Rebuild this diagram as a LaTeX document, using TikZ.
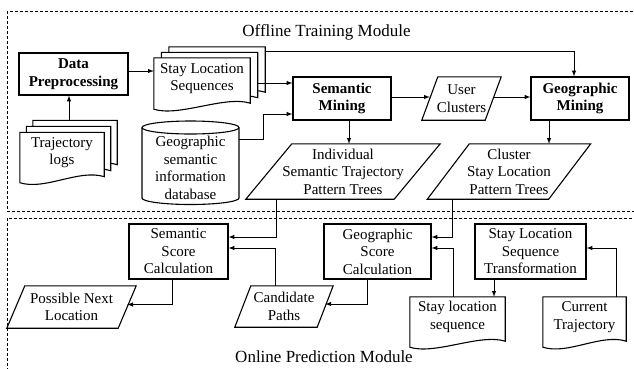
\documentclass[tikz,border=0pt]{standalone}
\usepackage{fontspec}
\setmainfont{Liberation Serif}
\usepackage{tikz}
\usetikzlibrary{calc}
\usetikzlibrary{arrows}
\usetikzlibrary{backgrounds}
\tikzset{>=latex}
\tikzstyle{proc} = [draw, rectangle, line width=1.1pt, align=center, inner sep=1pt, font=\fontsize{15}{17.5}\selectfont]
\tikzstyle{procb} = [proc, font=\fontsize{15}{17.5}\selectfont\bfseries]
\tikzstyle{io} = [draw=none, rectangle, align=center, inner sep=1pt, font=\fontsize{15}{17.5}\selectfont]
\tikzstyle{title} = [draw=none, font=\fontsize{17}{20}\selectfont]
\tikzstyle{frame} = [dash pattern=on 3pt off 2pt, line width=0.9pt]
\tikzstyle{link} = [->, line width=1pt]

% document outline round a node, shifted by (#2,#3)
\newcommand{\docshape}[3]{\draw[line width=1.1pt, fill=white] ($(#1.north west)+(#2,#3)$) -- ($(#1.north east)+(#2,#3)$) -- ($(#1.south east)+(#2,#3+4)$) .. controls +(-25,-8) and +(25,8) .. ($(#1.south west)+(#2,#3+10)$) -- cycle;}
% parallelogram round a node, slant #2
\newcommand{\slantbox}[2]{\draw[line width=1.1pt] ($(#1.south west)+(-#2/2,0)$) -- ($(#1.north west)+(#2/2,0)$) -- ($(#1.north east)+(#2/2,0)$) -- ($(#1.south east)+(-#2/2,0)$) -- cycle;}

\begin{document}
\begin{tikzpicture}[x=1pt, y=-1pt]
\useasboundingbox (0,0) rectangle (634,368);
\clip (0,0) rectangle (634,368);

% module frames
\draw[frame] (7,11) rectangle (660,211);
\draw[frame] (7,218) rectangle (660,400);
\node [title] (offt) at (326.5, 32) {Offline Training Module};
\node [title] (onlt) at (324, 357) {Online Prediction Module};

% offline part
\node [procb, minimum width=109, minimum height=42] (prep) at (73.5, 74) {Data\\Preprocessing};
\node [io, minimum width=96, minimum height=41] (slseq) at (202, 78.5) {Stay Location\\Sequences};
\node [io, minimum width=84, minimum height=40] (tlogs) at (62, 152.5) {Trajectory\\logs};
\node [io] (geodb) at (190.5, 168) {Geographic\\semantic\\information\\database};
\node [procb, minimum width=98, minimum height=43] (semmin) at (342, 98.5) {Semantic\\Mining};
\node [io, minimum width=63, minimum height=43] (usercl) at (461.5, 98.5) {User\\Clusters};
\node [procb, minimum width=98, minimum height=43] (geomin) at (580, 98.5) {Geographic\\Mining};
\node [io, minimum width=148, minimum height=55] (indiv) at (343, 171.5) {Individual\\Semantic Trajectory\\Pattern Trees};
\node [io, minimum width=121, minimum height=55] (clust) at (509, 171.5) {Cluster\\Stay Location\\Pattern Trees};

% online part
\node [proc, minimum width=99, minimum height=55] (semsc) at (178.5, 251.5) {Semantic\\Score\\Calculation};
\node [proc, minimum width=107, minimum height=55] (geosc) at (377.5, 251.5) {Geographic\\Score\\Calculation};
\node [proc, minimum width=111, minimum height=55] (slst) at (530.5, 251.5) {Stay Location\\Sequence\\Transformation};
\node [io, minimum width=111, minimum height=42] (posnx) at (71.5, 307) {Possible Next\\Location};
\node [io, minimum width=82, minimum height=41] (cand) at (284, 306.5) {Candidate\\Paths};
\node [io, minimum width=95, minimum height=40] (sls) at (457.5, 317) {Stay location\\sequence};
\node [io, minimum width=83, minimum height=40] (curtr) at (584.5, 317) {Current\\Trajectory};

\begin{pgfonlayer}{background}
\docshape{slseq}{15}{-11}
\docshape{slseq}{7.5}{-5.5}
\docshape{slseq}{0}{0}
\docshape{tlogs}{13}{-12}
\docshape{tlogs}{6.5}{-6}
\docshape{tlogs}{0}{0}
\docshape{sls}{0}{0}
\docshape{curtr}{0}{0}
\end{pgfonlayer}

\slantbox{usercl}{16}
\slantbox{indiv}{46}
\slantbox{clust}{42}
\slantbox{posnx}{18}
\slantbox{cand}{16}

% database cylinder
\draw[line width=1.1pt] ($(geodb.center)+(-48.5,-40.5)$) -- ($(geodb.center)+(-48.5,30)$) arc[start angle=180, end angle=360, x radius=48.5pt, y radius=6.5pt] -- ($(geodb.center)+(48.5,-40.5)$);
\draw[line width=1.1pt] ($(geodb.center)+(0,-40.5)$) ellipse [x radius=48.5pt, y radius=6.5pt];
\coordinate (dbout) at ($(geodb.center)+(48.5,-29)$);
\coordinate (tlup) at ($(tlogs.north)+(7,-12)$);
\coordinate (slup) at ($(slseq.north east)+(15,-6)$);
\coordinate (slout) at ($(slseq.east)+(7.5,4.5)$);

% offline connectors
\draw [link] (tlup) -- (tlup |- prep.south);
\draw [link] ([yshift=3pt]prep.east) -- ([yshift=3pt]prep.east -| slseq.west);
\draw [link] (slout) -- (slout -| semmin.west);
\draw [link] (dbout) -- ++(24,0) |- ([yshift=-15.5pt]semmin.west);
\draw [link] (slup) -| ([xshift=-6pt]geomin.north);
\draw [link] ([yshift=1.5pt]semmin.east) -- ([yshift=1.5pt]semmin.east -| usercl.west);
\draw [link] ([yshift=1.5pt]usercl.east) -- ([yshift=1.5pt]usercl.east -| geomin.west);
\draw [link] ([xshift=7pt]semmin.south) -- ([xshift=7pt]semmin.south |- indiv.north);
\draw [link] ([xshift=-31pt]geomin.south) -- ([xshift=-31pt]geomin.south |- clust.north);

% online connectors
\draw [link] ([xshift=-67pt]indiv.south) |- ([yshift=14.5pt]semsc.east);
\draw [link] ([xshift=-9pt]cand.north) |- ([yshift=3.5pt]semsc.east);
\draw [link] ([xshift=-6.5pt]semsc.south) |- ([yshift=2.5pt]posnx.east);
\draw [link] ([xshift=-57pt]clust.south) |- ([yshift=14.5pt]geosc.east);
\draw [link] ([xshift=-4.5pt]sls.north) |- ([yshift=3.5pt]geosc.east);
\draw [link] ([xshift=-10.5pt]geosc.south) |- ([yshift=2.5pt]cand.east);
\draw [link] ([xshift=-36.5pt]slst.south) -- ([xshift=-36.5pt]slst.south |- sls.north);
\draw [link] ([xshift=31.5pt]curtr.north) |- ([yshift=3.5pt]slst.east);
\end{tikzpicture}
\end{document}
